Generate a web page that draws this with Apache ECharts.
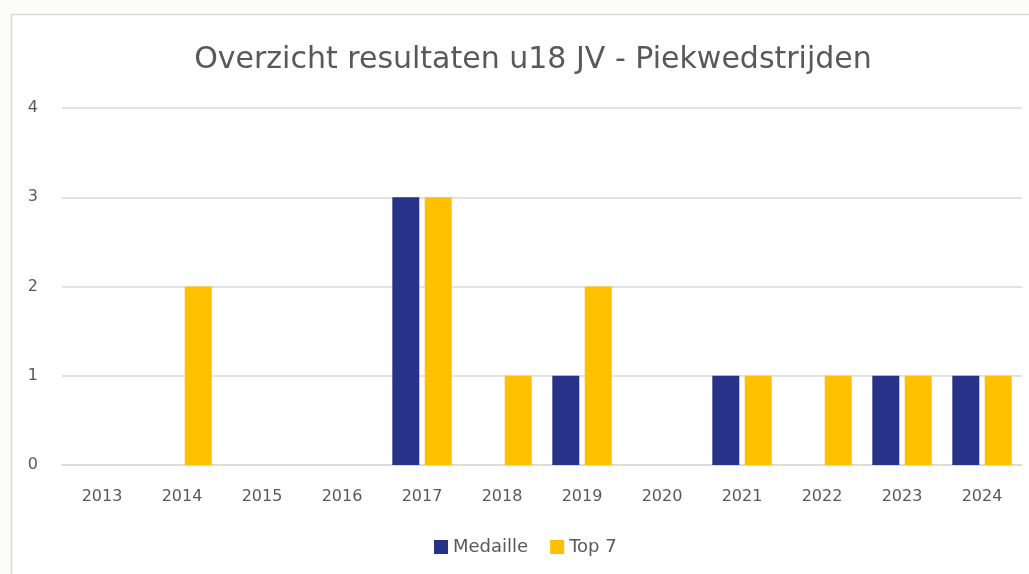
<!DOCTYPE html>
<html><head><meta charset="utf-8">
<script src="https://cdn.jsdelivr.net/npm/echarts@6/dist/echarts.min.js"></script>
<style>html,body{margin:0;padding:0;background:#FCFCF9;}#c{width:1029px;height:574px;}</style>
</head><body><div id="c"></div>
<script>
const title = 'Overzicht resultaten u18 JV - Piekwedstrijden';
const categories = ['2013','2014','2015','2016','2017','2018','2019','2020','2021','2022','2023','2024'];
const medaille = [0,0,0,0,3,0,1,0,1,0,1,1];
const top7 = [0,2,0,0,3,1,2,0,1,1,1,1];
const seriesNames = ['Medaille','Top 7'];
const yTicks = {min:0, max:4, interval:1};

const font = '"DejaVu Sans", sans-serif';
const chart = echarts.init(document.getElementById('c'));
chart.setOption({
  animation:false,
  backgroundColor:'transparent',
  graphic:[{type:'rect', z:-10, silent:true, shape:{x:11.5,y:14.5,width:1100,height:700}, style:{fill:'#ffffff', stroke:'#D9D9D9', lineWidth:1.5}}],
  title:{text:title, left:528, textAlign:'center', top:40, textStyle:{fontFamily:font, fontSize:30, fontWeight:'normal', color:'#595959'}},
  grid:{left:62, right:7, top:108, bottom:109},
  legend:{data:seriesNames, bottom:13, left:429, itemWidth:14, itemHeight:14, itemGap:22, icon:'rect',
    textStyle:{fontFamily:font, fontSize:18, color:'#595959'}},
  xAxis:{type:'category', data:categories, axisTick:{show:false},
    axisLine:{lineStyle:{color:'#D9D9D9', width:1.5}},
    axisLabel:{fontFamily:font, fontSize:16, color:'#595959', margin:24}},
  yAxis:{type:'value', min:yTicks.min, max:yTicks.max, interval:yTicks.interval,
    splitLine:{lineStyle:{color:'#D9D9D9', width:1.5}}, axisLine:{show:false}, axisTick:{show:false},
    axisLabel:{fontFamily:font, fontSize:16, color:'#595959', margin:24}},
  series:[
    {name:seriesNames[0], type:'bar', data:medaille, barWidth:27, barGap:'20%', itemStyle:{color:'#283288'}},
    {name:seriesNames[1], type:'bar', data:top7, barWidth:27, itemStyle:{color:'#FFC000'}}
  ]
});
</script></body></html>
